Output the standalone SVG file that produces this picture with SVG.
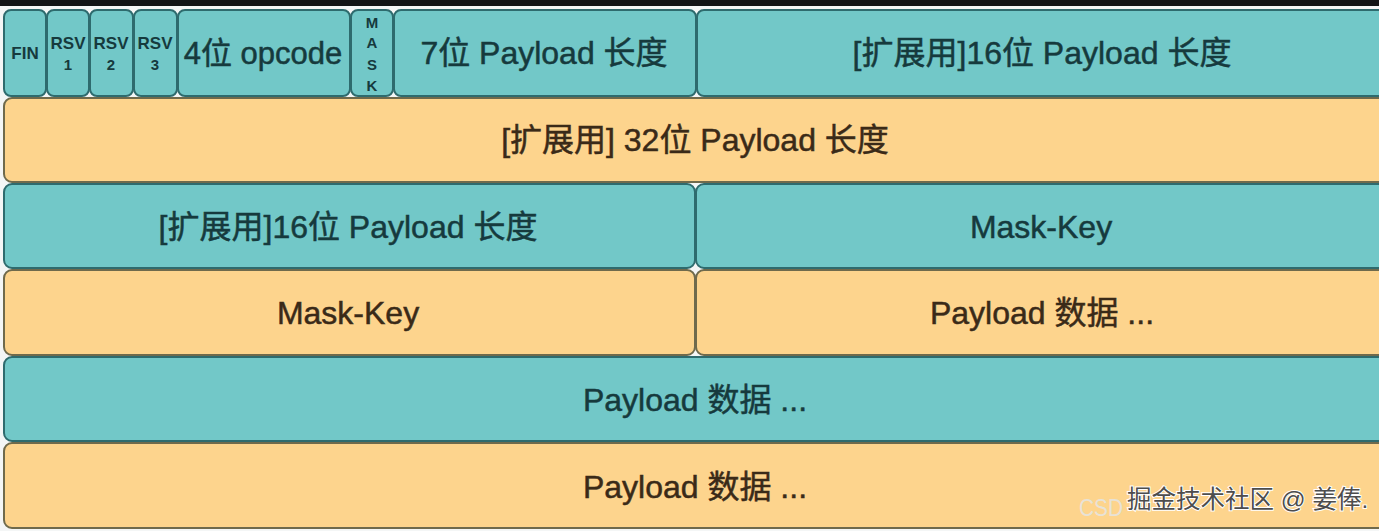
<svg xmlns="http://www.w3.org/2000/svg" width="1379" height="531" viewBox="0 0 1379 531">
<style>
text{font-family:"Liberation Sans","Noto Sans CJK SC",sans-serif;text-anchor:middle;dominant-baseline:central}
.t rect{fill:#72c8c8;stroke:#2e6b6e;stroke-width:2}
.o rect{fill:#fdd48d;stroke:#6f6a4c;stroke-width:2}
.t text{fill:#163a3d;stroke:#163a3d}
.o text{fill:#3a2a18;stroke:#3a2a18}
.big{font-size:32px;stroke-width:0.5px}
.sm{font-size:17px;font-weight:bold;stroke-width:0}
.xs{font-size:15px;font-weight:bold;stroke-width:0}
</style>
<rect x="0" y="0" width="1379" height="531" fill="#f4f6f6"/>
<rect x="0" y="0" width="1379" height="6" fill="#121416"/>
<g id="fin" class="t"><rect x="4" y="10" width="42" height="86" rx="7"/><text class="sm" x="25" y="53">FIN</text></g>
<g id="rsv1" class="t"><rect x="47" y="10" width="42" height="86" rx="7"/><text class="sm" x="68" y="43">RSV</text><text class="xs" x="68" y="64">1</text></g>
<g id="rsv2" class="t"><rect x="90" y="10" width="43" height="86" rx="7"/><text class="sm" x="111" y="43">RSV</text><text class="xs" x="111" y="64">2</text></g>
<g id="rsv3" class="t"><rect x="134" y="10" width="43" height="86" rx="7"/><text class="sm" x="155" y="43">RSV</text><text class="xs" x="155" y="64">3</text></g>
<g id="opcode" class="t"><rect x="178" y="10" width="172" height="86" rx="7"/><text class="big" x="263" y="53" style="font-size:31px">4位 opcode</text></g>
<g id="mask" class="t"><rect x="351" y="10" width="42" height="86" rx="7"/><text class="xs" x="372" y="22">M</text><text class="xs" x="372" y="42">A</text><text class="xs" x="372" y="64">S</text><text class="xs" x="372" y="85">K</text></g>
<g id="len7" class="t"><rect x="394" y="10" width="302" height="86" rx="7"/><text class="big" x="544" y="53">7位 Payload 长度</text></g>
<g id="len16a" class="t"><rect x="697" y="10" width="692" height="86" rx="7"/><text class="big" x="1042" y="53">[扩展用]16位 Payload 长度</text></g>
<g id="len32" class="o"><rect x="4" y="98" width="1385" height="84" rx="8"/><text class="big" x="695" y="140">[扩展用] 32位 Payload 长度</text></g>
<g id="len16b" class="t"><rect x="4" y="184" width="691" height="84" rx="8"/><text class="big" x="348" y="227">[扩展用]16位 Payload 长度</text></g>
<g id="maskkey1" class="t"><rect x="696" y="184" width="693" height="84" rx="8"/><text class="big" x="1041" y="227">Mask-Key</text></g>
<g id="maskkey2" class="o"><rect x="4" y="270" width="691" height="85" rx="8"/><text class="big" x="348" y="313">Mask-Key</text></g>
<g id="data1" class="o"><rect x="696" y="270" width="693" height="85" rx="8"/><text class="big" x="1042" y="313">Payload 数据 ...</text></g>
<g id="data2" class="t"><rect x="4" y="357" width="1385" height="84" rx="8"/><text class="big" x="695" y="400">Payload 数据 ...</text></g>
<g id="data3" class="o"><rect x="4" y="443" width="1385" height="85" rx="8"/><text class="big" x="695" y="487">Payload 数据 ...</text></g>
<g id="connectors"></g>
<g id="watermark">
<text x="1079" y="507" textLength="44" lengthAdjust="spacingAndGlyphs" style="font-size:24px;text-anchor:start;fill:#e8e2d6">CSD</text>
<text x="1127" y="499" style="font-size:24.5px;text-anchor:start;fill:#4d4d4d;stroke:#ffffff;stroke-width:2px;paint-order:stroke">掘金技术社区 @ 姜俸.</text>
</g>
</svg>
